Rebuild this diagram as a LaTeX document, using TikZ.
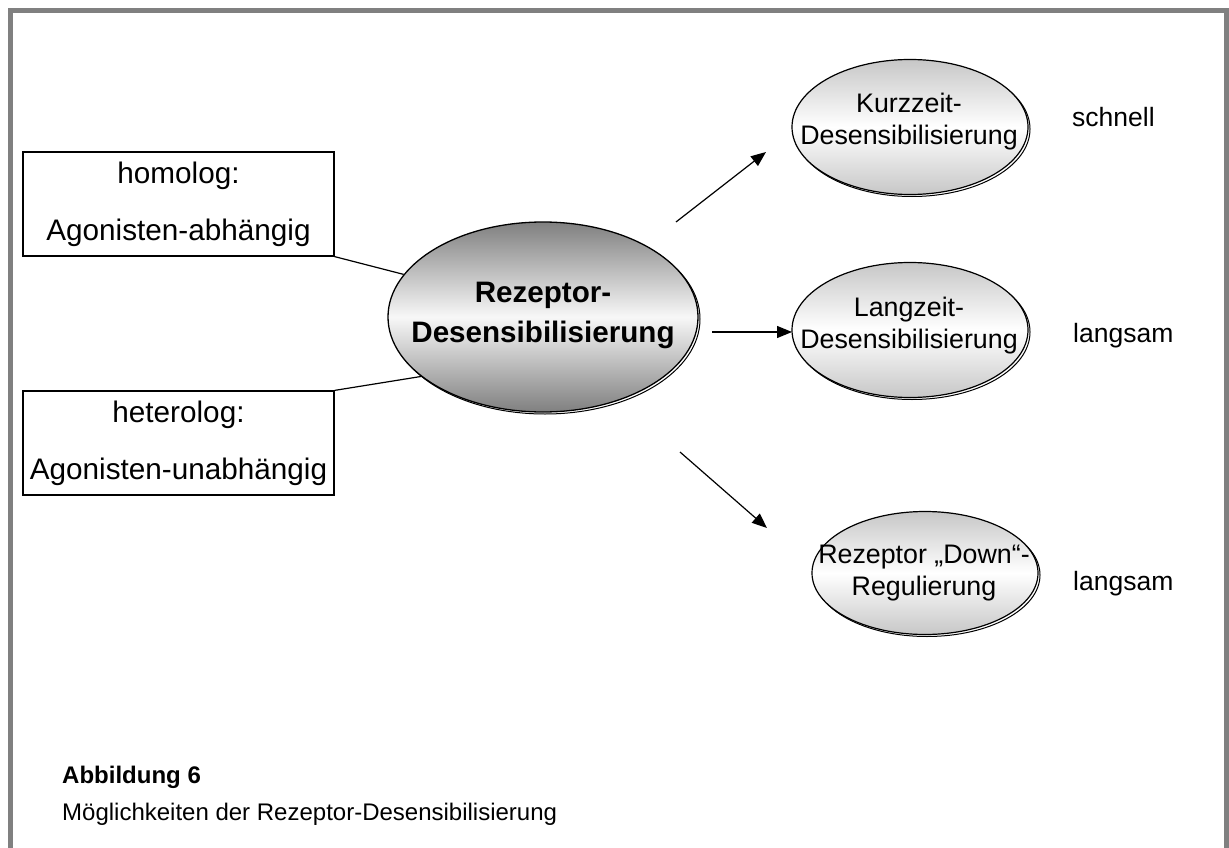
\documentclass[tikz,border=0pt]{standalone}
\usepackage{fontspec}
\setmainfont{Liberation Sans}
\usetikzlibrary{shapes.geometric,arrows.meta}
\begin{document}
\begin{tikzpicture}[x=1pt,y=-1pt,
  frameline/.style={draw=black!50, line width=4.5pt},
  boxnode/.style={draw, line width=1.2pt, minimum width=311pt, minimum height=104pt, inner sep=0pt, align=center, font=\fontsize{29.7}{57}\selectfont},
  bigell/.style={ellipse, draw, line width=1.3pt, inner sep=0pt,
     top color=black!50, bottom color=black!50, middle color=white!97!black},
  smallell/.style={ellipse, draw, line width=1.2pt, inner sep=0pt,
     top color=black!22, bottom color=black!22, middle color=white},
  shadowell/.style={ellipse, draw, line width=1pt, inner sep=0pt},
  bigtext/.style={inner sep=0pt, align=center, font=\bfseries\fontsize{29.6}{40}\selectfont},
  smalltext/.style={inner sep=0pt, align=center, font=\fontsize{26.8}{32}\selectfont},
  conn/.style={line width=1.2pt},
  arr/.style={line width=1.2pt, -{Triangle[length=15pt,width=12pt]}},
  sidelabel/.style={anchor=base west, inner sep=0pt, font=\fontsize{26.5}{32}\selectfont}
]
\useasboundingbox (0,0) rectangle (1229,848);
\fill[white] (0,0) rectangle (1229,848);
% frame
\draw[frameline] (10.5,860) -- (10.5,10.5) -- (1226.5,10.5) -- (1226.5,860);

% left boxes
\node[boxnode] (hom) at (178.5,204) {homolog:\\Agonisten-abhängig};
\node[boxnode] (het) at (178.5,443) {heterolog:\\Agonisten-unabhängig};

% main ellipse
\node[shadowell, minimum width=310pt, minimum height=190pt] (mainsh) at (545,319) {};
\node[bigell, minimum width=310pt, minimum height=190pt] (main) at (543,317) {};
\node[bigtext] (maintext) at (543,315) {Rezeptor-\\Desensibilisierung};

% right ellipses
\node[shadowell, minimum width=236pt, minimum height=135pt] (e1sh) at (912,129) {};
\node[smallell, minimum width=236pt, minimum height=135pt] (e1) at (910,127) {};
\node[smalltext] (e1text) at (909,122) {Kurzzeit-\\Desensibilisierung};
\node[shadowell, minimum width=236pt, minimum height=135pt] (e2sh) at (912,332) {};
\node[smallell, minimum width=236pt, minimum height=135pt] (e2) at (910,330) {};
\node[smalltext] (e2text) at (909,326) {Langzeit-\\Desensibilisierung};
\node[shadowell, minimum width=226pt, minimum height=123pt] (e3sh) at (927,575) {};
\node[smallell, minimum width=226pt, minimum height=123pt] (e3) at (925,573) {};
\node[smalltext] (e3text) at (924,573) {Rezeptor „Down“-\\Regulierung};

% side labels
\node[sidelabel] (l1) at (1072,127) {schnell};
\node[sidelabel] (l2) at (1073,342) {langsam};
\node[sidelabel] (l3) at (1073,590) {langsam};

% connectors from boxes
\draw[conn] (hom.south east) -- (main.163);
\draw[conn] (het.north east) -- (main.206);

% arrows
\coordinate (a1s) at (676,222);
\coordinate (a1e) at (766,152);
\coordinate (a2s) at (712,332);
\coordinate (a2e) at (792,332);
\coordinate (a3s) at (680,452);
\coordinate (a3e) at (767,528);
\draw[arr] (a1s) -- (a1e);
\draw[arr] (a2s) -- (a2e);
\draw[arr] (a3s) -- (a3e);

% caption
\node[anchor=base west, inner sep=0pt, font=\bfseries\fontsize{24}{28}\selectfont] (cap1) at (62,783) {Abbildung 6};
\node[anchor=base west, inner sep=0pt, font=\fontsize{24}{28}\selectfont] (cap2) at (62,820) {Möglichkeiten der Rezeptor-Desensibilisierung};
\end{tikzpicture}
\end{document}
